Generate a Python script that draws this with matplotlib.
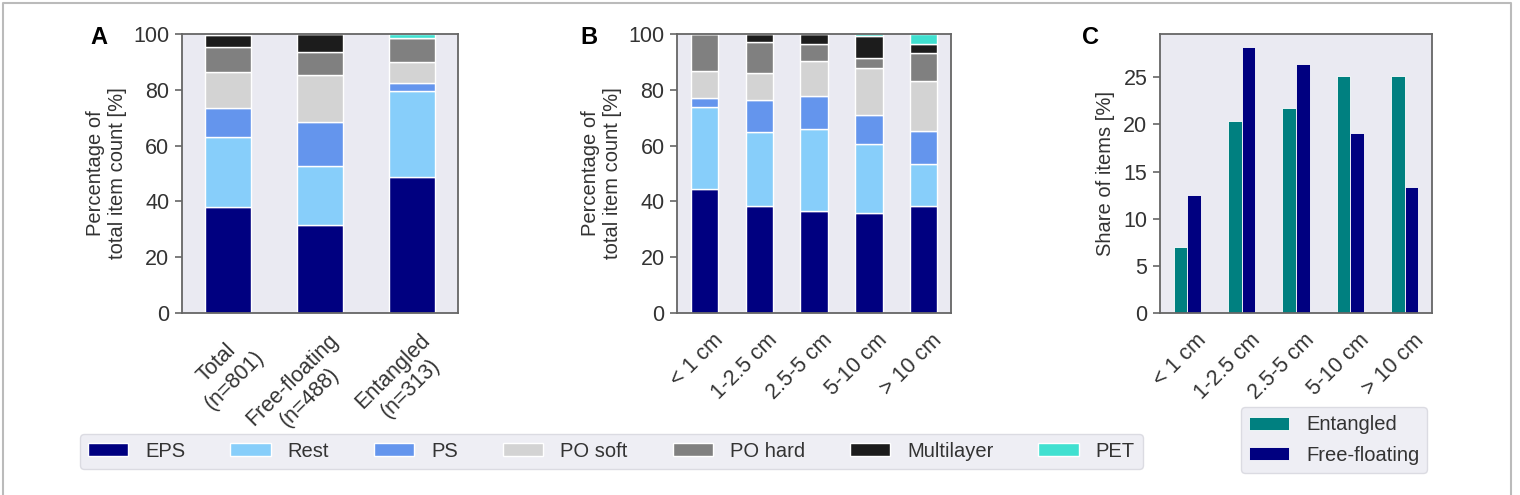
import matplotlib
matplotlib.use("Agg")
import matplotlib.pyplot as plt
import matplotlib.transforms as mtrans
import numpy as np
from matplotlib.lines import Line2D

# ---- data ----
MATERIALS = ["EPS", "Rest", "PS", "PO soft", "PO hard", "Multilayer", "PET"]
MAT_COLORS = ["#000080", "#87CEFA", "#6495ED", "#D3D3D3", "#808080", "#1C1C1C", "#40E0D0"]

GROUPS = ["Total\n(n=801)", "Free-floating\n(n=488)", "Entangled\n(n=313)"]
GROUP_SHARES = {
    "EPS":        [37.9, 31.4, 48.6],
    "Rest":       [25.3, 21.3, 30.8],
    "PS":         [10.2, 15.7, 2.9],
    "PO soft":    [13.1, 16.9, 7.6],
    "PO hard":    [8.7, 8.1, 8.7],
    "Multilayer": [4.4, 6.6, 0.0],
    "PET":        [0.4, 0.0, 1.4],
}

SIZES = ["< 1 cm", "1-2.5 cm", "2.5-5 cm", "5-10 cm", "> 10 cm"]
SIZE_SHARES = {
    "EPS":        [44.3, 38.3, 36.4, 35.9, 38.3],
    "Rest":       [29.4, 26.5, 29.4, 24.5, 15.2],
    "PS":         [3.3, 11.7, 11.8, 10.6, 11.9],
    "PO soft":    [9.9, 9.4, 12.9, 16.7, 17.7],
    "PO hard":    [13.1, 11.1, 5.9, 3.7, 10.0],
    "Multilayer": [0.0, 3.0, 3.6, 7.9, 3.4],
    "PET":        [0.0, 0.0, 0.0, 0.7, 3.5],
}

ENTANGLED = [7.0, 20.4, 21.8, 25.1, 25.1]
FREE_FLOATING = [12.5, 28.2, 26.4, 19.1, 13.4]

W, H = 1520, 495
FACE = "#EAEAF2"
SPINE = "#666666"
TXT = "#333333"
FS = 14.5      # labels, legend
TFS = 15.5     # tick labels

plt.rcParams.update({
    "font.family": ["Liberation Sans", "DejaVu Sans"],
    "font.size": FS,
    "axes.edgecolor": SPINE,
    "axes.labelcolor": TXT,
    "xtick.color": TXT,
    "ytick.color": TXT,
    "axes.linewidth": 1.3,
})

fig = plt.figure(figsize=(W / 100, H / 100), dpi=100)


def px_axes(x0, x1, y0, y1):
    return fig.add_axes([x0 / W, 1 - y1 / H, (x1 - x0) / W, (y1 - y0) / H])


def style(ax, n, ymax, labels):
    ax.set_facecolor(FACE)
    ax.set_xlim(-0.5, n - 0.5)
    ax.set_ylim(0, ymax)
    ax.set_xticks(np.arange(n))
    ax.set_xticklabels(labels, rotation=45, ha="right", rotation_mode="anchor",
                       multialignment="center")
    ax.tick_params(axis="x", length=0, pad=12, labelsize=TFS)
    ax.tick_params(axis="y", length=5, width=1.2, color=SPINE, pad=4, labelsize=TFS)
    shift = mtrans.ScaledTranslation(0.08, 0, fig.dpi_scale_trans)
    for t in ax.get_xticklabels():
        t.set_transform(t.get_transform() + shift)


def stacked(ax, cats, shares):
    x = np.arange(len(cats))
    bottom = np.zeros(len(cats))
    handles = []
    for mat, col in zip(MATERIALS, MAT_COLORS):
        vals = np.array(shares[mat])
        h = ax.bar(x, vals, 0.5, bottom=bottom, color=col, edgecolor="white",
                   linewidth=1, label=mat)
        handles.append(h)
        bottom += vals
    return handles


# A
axA = px_axes(182, 458, 34, 313)
handles = stacked(axA, GROUPS, GROUP_SHARES)
style(axA, len(GROUPS), 100, GROUPS)
axA.set_ylabel("Percentage of\ntotal item count [%]", fontsize=FS)
axA.yaxis.set_label_coords(-0.2, 0.5)

# B
axB = px_axes(677, 951, 34, 313)
stacked(axB, SIZES, SIZE_SHARES)
style(axB, len(SIZES), 100, SIZES)
axB.set_ylabel("Percentage of\ntotal item count [%]", fontsize=FS)
axB.yaxis.set_label_coords(-0.2, 0.5)

# C
axC = px_axes(1160, 1432, 34, 313)
xc = np.arange(len(SIZES))
axC.bar(xc - 0.125, ENTANGLED, 0.25, color="#008080", edgecolor="white", linewidth=0.6,
        label="Entangled")
axC.bar(xc + 0.125, FREE_FLOATING, 0.25, color="#000080", edgecolor="white", linewidth=0.6,
        label="Free-floating")
style(axC, len(SIZES), 29.6, SIZES)
axC.set_yticks([0, 5, 10, 15, 20, 25])
axC.set_ylabel("Share of items [%]", fontsize=FS)
axC.yaxis.set_label_coords(-0.165, 0.5)

for lab, x in [("A", 90), ("B", 580), ("C", 1082)]:
    fig.text(x / W, 1 - 44 / H, lab, fontsize=17, fontweight="bold", color="black",
             va="baseline", ha="left")

legkw = dict(frameon=True, facecolor=FACE, edgecolor="#D5D5DD", framealpha=0.8,
             fontsize=FS, handlelength=2.0, handleheight=0.62, handletextpad=0.85)
leg = fig.legend(handles, MATERIALS, loc="center", ncol=7, mode="expand",
                 bbox_to_anchor=(80 / W, 1 - 470 / H, (1143 - 80) / W, 37 / H),
                 borderaxespad=0, **legkw)
for t in leg.get_texts():
    t.set_color(TXT)

legC = fig.legend(*axC.get_legend_handles_labels(), loc="center",
                  bbox_to_anchor=(1334 / W, 1 - 440 / H), labelspacing=0.55, **legkw)
for t in legC.get_texts():
    t.set_color(TXT)

# outer frame of the figure panel
frame = Line2D([3 / W, 3 / W, 1511 / W, 1511 / W], [0, 1 - 3 / H, 1 - 3 / H, 0],
               transform=fig.transFigure, color="#BBBBBB", lw=1.5)
fig.add_artist(frame)

fig.savefig("out.png", dpi=100)
